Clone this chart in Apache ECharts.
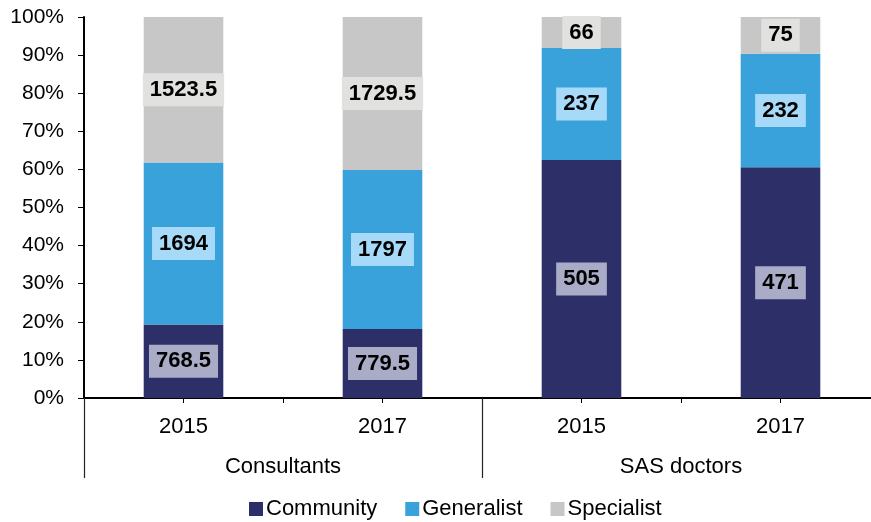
<!DOCTYPE html>
<html>
<head>
<meta charset="utf-8">
<script src="https://cdn.jsdelivr.net/npm/echarts@6/dist/echarts.min.js"></script>
<style>
  html, body { margin: 0; padding: 0; background: #fff; }
  #chart { width: 871px; height: 522px; }
</style>
</head>
<body>
<div id="chart"></div>
<script>
var years = ['2015', '2017', '2015', '2017'];
var groups = ['Consultants', 'SAS doctors'];
var community = [768.5, 779.5, 505, 471];
var generalist = [1694, 1797, 237, 232];
var specialist = [1523.5, 1729.5, 66, 75];

var totals = years.map(function (y, i) {
  return community[i] + generalist[i] + specialist[i];
});

function toPercent(arr) {
  return arr.map(function (v, i) {
    return { value: v / totals[i] * 100, raw: v };
  });
}

var font = 'Liberation Sans, Arial, sans-serif';

function makeSeries(name, arr, color, labelBg) {
  return {
    name: name,
    type: 'bar',
    stack: 'total',
    barWidth: '40%',
    itemStyle: { color: color },
    label: {
      show: true,
      position: 'inside',
      color: '#000',
      fontFamily: font,
      fontWeight: 'bold',
      fontSize: 22,
      lineHeight: 23,
      backgroundColor: labelBg,
      padding: [5, 7],
      formatter: function (p) { return p.data.raw; }
    },
    data: toPercent(arr)
  };
}

var chart = echarts.init(document.getElementById('chart'));
chart.setOption({
  animation: false,
  grid: { left: 84, top: 17, bottom: 124, width: 796, outerBoundsMode: 'none', containLabel: false },
  legend: {
    bottom: -3,
    left: 244,
    itemWidth: 14,
    itemHeight: 14,
    itemGap: 28,
    icon: 'rect',
    textStyle: { fontFamily: font, fontSize: 22, color: '#000', padding: [0, 0, 0, -2] },
    data: ['Community', 'Generalist', 'Specialist']
  },
  xAxis: [
    {
      type: 'category',
      data: years,
      position: 'bottom',
      offset: 0,
      axisLine: { lineStyle: { color: '#000', width: 2 } },
      axisTick: { show: true, alignWithLabel: true, length: 5, lineStyle: { color: '#000' } },
      axisLabel: { fontFamily: font, fontSize: 22, color: '#000', margin: 18 }
    },
    {
      type: 'category',
      data: years,
      position: 'bottom',
      offset: 0,
      axisLine: { show: false },
      axisTick: { show: true, interval: 0, length: 5, lineStyle: { color: '#000' } },
      axisLabel: { show: false }
    },
    {
      type: 'category',
      data: groups,
      position: 'bottom',
      offset: 0,
      axisLine: { show: false },
      axisTick: { show: true, interval: 0, length: 80, lineStyle: { color: '#222', width: 1.2 } },
      axisLabel: { fontFamily: font, fontSize: 22, color: '#000', margin: 58 }
    }
  ],
  yAxis: {
    type: 'value',
    min: 0,
    max: 100,
    interval: 10,
    axisLine: { show: true, lineStyle: { color: '#000', width: 2 } },
    axisTick: { show: true, length: 6, lineStyle: { color: '#000' } },
    splitLine: { show: false },
    axisLabel: { formatter: '{value}%', fontFamily: font, fontSize: 21, color: '#000', margin: 20 }
  },
  series: [
    makeSeries('Community', community, '#2d3068', '#a9abc7'),
    makeSeries('Generalist', generalist, '#3aa2db', '#a6daf8'),
    makeSeries('Specialist', specialist, '#c7c7c7', '#e1e1e0')
  ]
});
</script>
</body>
</html>
